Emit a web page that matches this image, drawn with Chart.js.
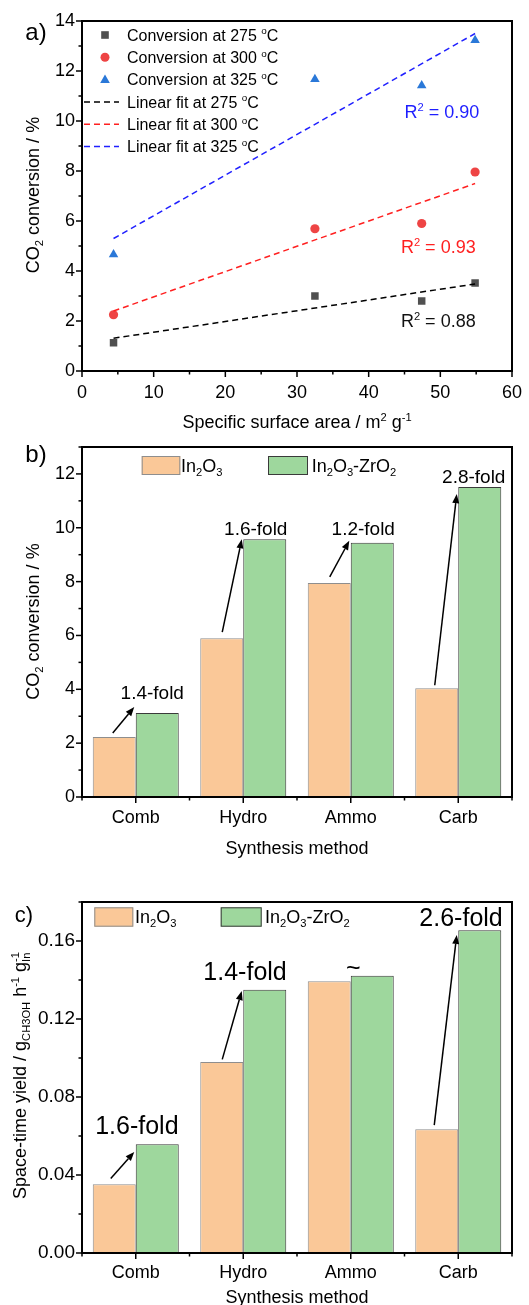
<!DOCTYPE html>
<html>
<head>
<meta charset="utf-8">
<script src="https://cdn.jsdelivr.net/npm/chart.js@4.4.1/dist/chart.umd.min.js"></script>
<style>
  body { margin: 0; background: #fff; }
  .panel { position: absolute; left: 0; }
</style>
</head>
<body>
<canvas id="chartA" class="panel" style="top:0" width="529" height="440"></canvas>
<canvas id="chartB" class="panel" style="top:440px" width="529" height="440"></canvas>
<canvas id="chartC" class="panel" style="top:880px" width="529" height="425"></canvas>
<script>
// a) CO2 conversion vs specific surface area
const surfaceArea = [4.4, 32.5, 47.4, 54.85];
const conv275 = [1.13, 3.0, 2.8, 3.52];
const conv300 = [2.25, 5.69, 5.9, 7.96];
const conv325 = [4.66, 11.67, 11.42, 13.23];
const fitX = [4.4, 54.85];
const fit275 = [1.31, 3.48];
const fit300 = [2.4, 7.5];
const fit325 = [5.3, 13.5];
const r2Values = ['0.88', '0.93', '0.90'];

// b) and c) by synthesis method
const methods = ['Comb', 'Hydro', 'Ammo', 'Carb'];
const convIn2O3 = [2.23, 5.9, 7.95, 4.04];
const convZrO2 = [3.12, 9.57, 9.44, 11.51];
const convFold = ['1.4-fold', '1.6-fold', '1.2-fold', '2.8-fold'];
const styIn2O3 = [0.0353, 0.0979, 0.1394, 0.0635];
const styZrO2 = [0.0558, 0.135, 0.1422, 0.1655];
const styFold = ['1.6-fold', '1.4-fold', '~', '2.6-fold'];

// tick values
const xTicksA = [0, 10, 20, 30, 40, 50, 60];
const yTicksA = [0, 2, 4, 6, 8, 10, 12, 14];
const yTicksB = [0, 2, 4, 6, 8, 10, 12];
const yTicksC = [0, 0.04, 0.08, 0.12, 0.16];

const FONT = '"Liberation Sans", Arial, sans-serif';
const font = size => size + 'px ' + FONT;

const IN_FILL = '#FAC898', IN_EDGE = '#8E8E8E';
const ZR_FILL = '#9ED79D', ZR_EDGE = '#3A3A3A';

// text with sub / superscripts: parts are strings or {sub, sup}
function partWidth(ctx, p, size) {
    if (typeof p === 'string') { ctx.font = font(size); return ctx.measureText(p).width; }
    ctx.font = font(size * 0.62);
    return Math.max(ctx.measureText(p.sub || '').width, ctx.measureText(p.sup || '').width);
}

function drawRich(ctx, parts, x, y, size, opts) {
    opts = opts || {};
    ctx.save();
    ctx.translate(x, y);
    if (opts.rotate) ctx.rotate(opts.rotate);
    ctx.fillStyle = opts.color || '#000';
    ctx.textAlign = 'left';
    ctx.textBaseline = 'alphabetic';
    const total = parts.reduce((w, p) => w + partWidth(ctx, p, size), 0);
    let cx = opts.align === 'left' ? 0 : opts.align === 'right' ? -total : -total / 2;
    const base = size * 0.36;
    parts.forEach(p => {
        const w = partWidth(ctx, p, size);
        if (typeof p === 'string') {
            ctx.font = font(size);
            ctx.fillText(p, cx, base);
        } else {
            ctx.font = font(size * 0.62);
            if (p.sub) ctx.fillText(p.sub, cx, base + size * 0.22);
            if (p.sup) ctx.fillText(p.sup, cx, base - size * 0.4);
        }
        cx += w;
    });
    ctx.restore();
}

function arrow(ctx, x1, y1, x2, y2) {
    const ang = Math.atan2(y2 - y1, x2 - x1), head = 9, half = 3.5;
    const bx = x2 - head * Math.cos(ang), by = y2 - head * Math.sin(ang);
    ctx.strokeStyle = '#000';
    ctx.lineWidth = 1.5;
    ctx.beginPath(); ctx.moveTo(x1, y1); ctx.lineTo(bx, by); ctx.stroke();
    ctx.fillStyle = '#000';
    ctx.beginPath();
    ctx.moveTo(x2, y2);
    ctx.lineTo(bx + half * Math.sin(ang), by - half * Math.cos(ang));
    ctx.lineTo(bx - half * Math.sin(ang), by + half * Math.cos(ang));
    ctx.closePath();
    ctx.fill();
}

function midpoints(vals) {
    const out = [];
    for (let i = 0; i < vals.length - 1; i++) out.push((vals[i] + vals[i + 1]) / 2);
    out.push(vals[vals.length - 1] + (vals[1] - vals[0]) / 2);
    return out;
}

// frame box, outward major/minor ticks and extra drawing
function decor(opts) {
    return {
        id: 'decor',
        afterDraw(chart) {
            const ctx = chart.ctx, a = chart.chartArea;
            const xs = chart.scales.x, ys = chart.scales.y;
            ctx.save();
            ctx.strokeStyle = '#000';
            ctx.lineWidth = 1.5;
            const tick = (vals, len, isX) => vals.forEach(v => {
                ctx.beginPath();
                if (isX) {
                    const px = xs.getPixelForValue(v);
                    ctx.moveTo(px, a.bottom); ctx.lineTo(px, a.bottom + len);
                } else {
                    const py = ys.getPixelForValue(v);
                    ctx.moveTo(a.left, py); ctx.lineTo(a.left - len, py);
                }
                ctx.stroke();
            });
            tick(opts.xMajor, 6, true);
            tick(opts.xMinor, 3.5, true);
            tick(opts.yMajor, 6, false);
            tick(opts.yMinor, 3.5, false);
            ctx.lineWidth = 2;
            ctx.strokeRect(a.left, a.top, a.right - a.left, a.bottom - a.top);
            opts.draw(ctx, chart);
            ctx.restore();
        }
    };
}

function fixX(height) {
    return s => { s.height = height; s.paddingLeft = 0; s.paddingRight = 0; };
}

function yScale(min, max, step, size, fmt) {
    return {
        min: min, max: max,
        grid: { display: false, drawTicks: false },
        border: { display: false },
        ticks: { stepSize: step, padding: 7, color: '#000', font: { size: size, family: FONT }, callback: fmt },
        afterBuildTicks: s => {
            s.ticks = s.ticks.filter(t => Math.abs(t.value / step - Math.round(t.value / step)) < 1e-6);
        },
        afterFit: s => { s.width = 82; s.paddingTop = 0; s.paddingBottom = 0; }
    };
}

const baseOptions = {
    responsive: false,
    animation: false,
    devicePixelRatio: 1,
    plugins: { legend: { display: false }, tooltip: { enabled: false } }
};

// ---------- panel a ----------
const legendA = [
    { kind: 'rect', color: '#505050', text: 'Conversion at 275 ' },
    { kind: 'circle', color: '#EE4444', text: 'Conversion at 300 ' },
    { kind: 'triangle', color: '#2A78D8', text: 'Conversion at 325 ' },
    { kind: 'line', color: '#000000', text: 'Linear fit at 275 ' },
    { kind: 'line', color: '#FF2020', text: 'Linear fit at 300 ' },
    { kind: 'line', color: '#2020FF', text: 'Linear fit at 325 ' }
];

function drawLegendA(ctx) {
    legendA.forEach((it, i) => {
        const y = 35 + i * 22.3, mx = 105;
        ctx.fillStyle = it.color;
        ctx.strokeStyle = it.color;
        if (it.kind === 'rect') {
            ctx.fillRect(mx - 3.8, y - 3.8, 7.6, 7.6);
        } else if (it.kind === 'circle') {
            ctx.beginPath(); ctx.arc(mx, y, 4.5, 0, Math.PI * 2); ctx.fill();
        } else if (it.kind === 'triangle') {
            ctx.beginPath();
            ctx.moveTo(mx, y - 5); ctx.lineTo(mx + 4.8, y + 3.5); ctx.lineTo(mx - 4.8, y + 3.5);
            ctx.closePath(); ctx.fill();
        } else {
            ctx.save();
            ctx.lineWidth = 1.5;
            ctx.setLineDash([6, 4]);
            ctx.beginPath(); ctx.moveTo(84, y); ctx.lineTo(119, y); ctx.stroke();
            ctx.restore();
        }
        drawRich(ctx, [it.text, { sup: 'o' }, 'C'], 127, y, 16, { align: 'left' });
    });
}

const r2Pos = [
    { x: 44.5, y: 2.0, color: '#111111' },
    { x: 44.5, y: 4.97, color: '#FF2020' },
    { x: 45.0, y: 10.36, color: '#1E1EFF' }
];

function pts(xs, ys) { return xs.map((x, i) => ({ x: x, y: ys[i] })); }

new Chart(document.getElementById('chartA'), {
    type: 'scatter',
    data: {
        datasets: [
            { label: 'Linear fit at 275 oC', data: pts(fitX, fit275), showLine: true, borderColor: '#000000', borderWidth: 1.5, borderDash: [6, 4], pointRadius: 0 },
            { label: 'Linear fit at 300 oC', data: pts(fitX, fit300), showLine: true, borderColor: '#FF2020', borderWidth: 1.5, borderDash: [6, 4], pointRadius: 0 },
            { label: 'Linear fit at 325 oC', data: pts(fitX, fit325), showLine: true, borderColor: '#2020FF', borderWidth: 1.5, borderDash: [6, 4], pointRadius: 0 },
            { label: 'Conversion at 275 oC', data: pts(surfaceArea, conv275), pointStyle: 'rect', pointRadius: 5.3, backgroundColor: '#505050', borderWidth: 0 },
            { label: 'Conversion at 300 oC', data: pts(surfaceArea, conv300), pointStyle: 'circle', pointRadius: 4.6, backgroundColor: '#EE4444', borderWidth: 0 },
            { label: 'Conversion at 325 oC', data: pts(surfaceArea, conv325), pointStyle: 'triangle', pointRadius: 5.5, backgroundColor: '#2A78D8', borderWidth: 0 }
        ]
    },
    options: Object.assign({}, baseOptions, {
        layout: { padding: { top: 21, right: 17, left: 0, bottom: 0 } },
        scales: {
            x: {
                type: 'linear', min: 0, max: 60,
                grid: { display: false, drawTicks: false },
                border: { display: false },
                ticks: { stepSize: 10, padding: 11, color: '#000', font: { size: 18, family: FONT } },
                afterFit: fixX(69)
            },
            y: yScale(0, 14, 2, 18)
        }
    }),
    plugins: [decor({
        xMajor: xTicksA, xMinor: midpoints(xTicksA).slice(0, -1),
        yMajor: yTicksA, yMinor: midpoints(yTicksA).slice(0, -1),
        draw(ctx, chart) {
            const xs = chart.scales.x, ys = chart.scales.y;
            drawLegendA(ctx);
            r2Pos.forEach((p, i) => {
                drawRich(ctx, ['R', { sup: '2' }, ' = ' + r2Values[i]], xs.getPixelForValue(p.x), ys.getPixelForValue(p.y), 18, { align: 'left', color: p.color });
            });
            drawRich(ctx, ['Specific surface area / m', { sup: '2' }, ' g', { sup: '-1' }], 297, 421.7, 18);
            drawRich(ctx, ['CO', { sub: '2' }, ' conversion / %'], 33, 195, 18, { rotate: -Math.PI / 2 });
            drawRich(ctx, ['a)'], 36, 31, 24);
        }
    })]
});

// ---------- panels b and c ----------
const in2o3Label = ['In', { sub: '2' }, 'O', { sub: '3' }];
const zrLabel = ['In', { sub: '2' }, 'O', { sub: '3' }, '-ZrO', { sub: '2' }];

function drawBarLegend(ctx, boxes, y, h) {
    boxes.forEach(b => {
        ctx.fillStyle = b.fill;
        ctx.fillRect(b.x, y - h / 2, b.w, h);
        ctx.strokeStyle = b.edge;
        ctx.lineWidth = 1;
        ctx.strokeRect(b.x + 0.5, y - h / 2 + 0.5, b.w - 1, h - 1);
        drawRich(ctx, b.label, b.tx, y, 18, { align: 'left' });
    });
}

// arrow start offset from In2O3 bar top, arrow end offset from ZrO2 bar top, label offset from arrow end
function drawFolds(ctx, chart, labels, marks, size) {
    const inBars = chart.getDatasetMeta(0).data, zrBars = chart.getDatasetMeta(1).data;
    marks.forEach((m, i) => {
        const a = inBars[i], b = zrBars[i];
        const ex = a.x + a.width / 2 - 1.5, ey = b.y + m.endDy;
        if (m.start) arrow(ctx, a.x + m.start[0], a.y + m.start[1], ex, ey);
        drawRich(ctx, [labels[i]], ex + m.label[0], ey + m.label[1], size);
    });
}

const foldMarksB = [
    { start: [-1.5, -4], endDy: -6, label: [18, -15] },
    { start: [0.5, -6], endDy: 0, label: [14, -11] },
    { start: [0.5, -6], endDy: -2, label: [14, -13] },
    { start: [-2, -3], endDy: 7, label: [17, -18] }
];
const foldMarksC = [
    { start: [-3.5, -5.7], endDy: 7.7, label: [2.6, -26.7] },
    { start: [0.5, -2.7], endDy: 1.3, label: [3.3, -20.3] },
    { start: null, endDy: 0, label: [4, -9] },
    { start: [-2.5, -4], endDy: 4.7, label: [4.3, -18.3] }
];

function barChart(id, inVals, zrVals, opt) {
    const catTicks = methods.map((m, i) => i);
    return new Chart(document.getElementById(id), {
        type: 'bar',
        data: {
            labels: methods,
            datasets: [
                { label: 'In2O3', data: inVals, backgroundColor: IN_FILL, borderColor: IN_EDGE, borderWidth: 1, categoryPercentage: 0.8, barPercentage: 1.0 },
                { label: 'In2O3-ZrO2', data: zrVals, backgroundColor: ZR_FILL, borderColor: ZR_EDGE, borderWidth: 1, categoryPercentage: 0.8, barPercentage: 1.0 }
            ]
        },
        options: Object.assign({}, baseOptions, {
            layout: { padding: { top: opt.padTop, right: 17, left: 0, bottom: 0 } },
            scales: {
                x: {
                    grid: { display: false, drawTicks: false },
                    border: { display: false },
                    ticks: { padding: opt.xPad, color: '#000', font: { size: 18, family: FONT } },
                    afterFit: fixX(opt.xHeight)
                },
                y: yScale(0, opt.yMax, opt.yStep, opt.yFont, opt.fmt)
            }
        }),
        plugins: [decor({
            xMajor: catTicks, xMinor: catTicks.map(i => i - 0.5).concat([methods.length - 0.5]),
            yMajor: opt.yMajor, yMinor: midpoints(opt.yMajor),
            draw: opt.draw
        })]
    });
}

barChart('chartB', convIn2O3, convZrO2, {
    padTop: 7, xHeight: 83, xPad: 10, yMax: 13, yStep: 2, yFont: 18, yMajor: yTicksB,
    draw(ctx, chart) {
        drawBarLegend(ctx, [
            { x: 141.7, w: 38.6, fill: IN_FILL, edge: IN_EDGE, label: in2o3Label, tx: 181 },
            { x: 268, w: 40, fill: ZR_FILL, edge: ZR_EDGE, label: zrLabel, tx: 311.7 }
        ], 25.5, 19);
        drawFolds(ctx, chart, convFold, foldMarksB, 19);
        drawRich(ctx, ['Synthesis method'], 297, 407.3, 18);
        drawRich(ctx, ['CO', { sub: '2' }, ' conversion / %'], 33, 181.5, 18, { rotate: -Math.PI / 2 });
        drawRich(ctx, ['b)'], 36, 13, 24);
    }
});

barChart('chartC', styIn2O3, styZrO2, {
    padTop: 22, xHeight: 52, xPad: 9.5, yMax: 0.18, yStep: 0.04, yFont: 19, yMajor: yTicksC,
    fmt: v => v.toFixed(2),
    draw(ctx, chart) {
        drawBarLegend(ctx, [
            { x: 94.3, w: 39, fill: IN_FILL, edge: IN_EDGE, label: in2o3Label, tx: 135 },
            { x: 220.7, w: 41, fill: ZR_FILL, edge: ZR_EDGE, label: zrLabel, tx: 265 }
        ], 37, 19.4);
        drawFolds(ctx, chart, styFold, foldMarksC, 25);
        drawRich(ctx, ['Synthesis method'], 297, 416.7, 18);
        drawRich(ctx, ['Space-time yield / g', { sub: 'CH3OH' }, ' h', { sup: '-1' }, ' g', { sub: 'In', sup: '-1' }], 20, 195.5, 18, { rotate: -Math.PI / 2 });
        drawRich(ctx, ['c)'], 24, 34, 22);
    }
});
</script>
</body>
</html>
